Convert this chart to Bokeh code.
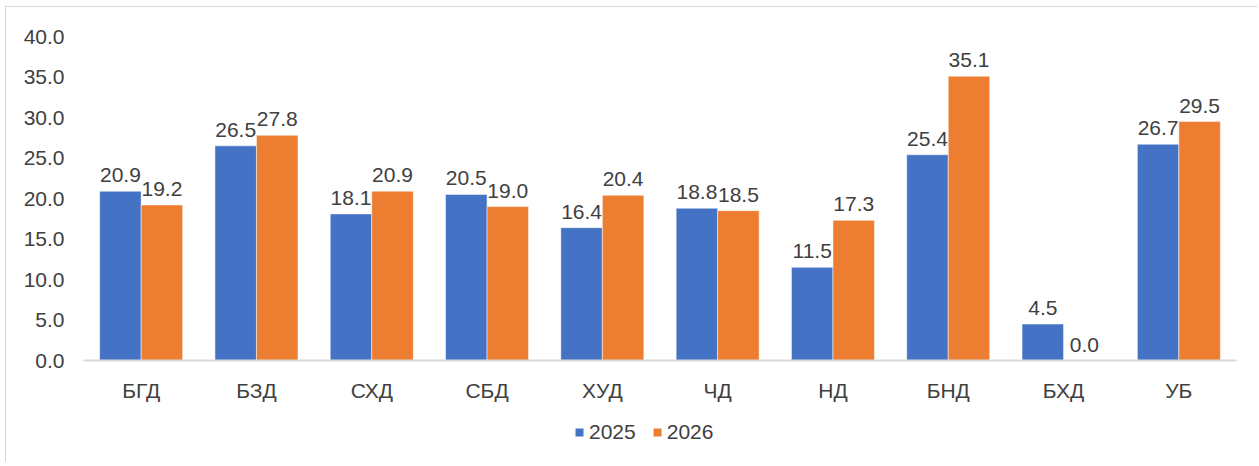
from bokeh.plotting import figure
from bokeh.layouts import column
from bokeh.models import (FactorRange, ColumnDataSource, Legend, LegendItem,
                          NumeralTickFormatter, FixedTicker, Range1d)
from bokeh.transform import dodge
from bokeh.core.properties import value
from bokeh.embed import file_html
from bokeh.resources import INLINE

categories = ["БГД", "БЗД", "СХД", "СБД", "ХУД", "ЧД", "НД", "БНД", "БХД", "УБ"]
series_names = ["2025", "2026"]
values_2025 = [20.9, 26.5, 18.1, 20.5, 16.4, 18.8, 11.5, 25.4, 4.5, 26.7]
values_2026 = [19.2, 27.8, 20.9, 19.0, 20.4, 18.5, 17.3, 35.1, 0.0, 29.5]
y_ticks = [0, 5, 10, 15, 20, 25, 30, 35, 40]

FONT = "Liberation Sans"
FS = "21px"
TXT = "#404040"
BLUE = "#4472C4"
ORANGE = "#ED7D31"
BORDER = "1px solid #d9d9d9"

src = ColumnDataSource(dict(
    cat=categories,
    v1=values_2025,
    v2=values_2026,
    l1=[f"{v:.1f}" for v in values_2025],
    l2=[f"{v:.1f}" for v in values_2026],
))

p = figure(width=1252, height=400, x_range=FactorRange(*categories), y_range=(0, 40),
           output_backend="svg", toolbar_location=None,
           min_border_left=77, min_border_right=22, min_border_top=29, min_border_bottom=47)
p.margin = (6, 0, 0, 5)
p.styles = {"border-top": BORDER, "border-left": BORDER}
p.outline_line_color = None
p.xgrid.grid_line_color = None
p.ygrid.grid_line_color = None

bw = 0.36
r1 = p.vbar(x=dodge("cat", -bw / 2, range=p.x_range), top="v1", width=bw, source=src,
            fill_color=BLUE, line_color="white", line_width=0.5)
r2 = p.vbar(x=dodge("cat", bw / 2, range=p.x_range), top="v2", width=bw, source=src,
            fill_color=ORANGE, line_color="white", line_width=0.5)

for xcol, ycol, lcol, off in [("cat", "v1", "l1", -bw / 2), ("cat", "v2", "l2", bw / 2)]:
    p.text(x=dodge(xcol, off, range=p.x_range), y=ycol, text=lcol, source=src,
           text_font=value(FONT), text_font_size=FS, text_color=TXT,
           text_align="center", text_baseline="alphabetic", y_offset=-16)

ya = p.yaxis[0]
ya.ticker = FixedTicker(ticks=y_ticks)
ya.formatter = NumeralTickFormatter(format="0.0")
ya.axis_line_color = None
ya.major_tick_line_color = None
ya.minor_tick_line_color = None
ya.major_tick_out = 0
ya.major_tick_in = 0
ya.major_label_standoff = 19
ya.major_label_text_font = FONT
ya.major_label_text_font_size = FS
ya.major_label_text_color = TXT

xa = p.xaxis[0]
xa.axis_line_color = "#d9d9d9"
xa.axis_line_width = 2
xa.major_tick_line_color = None
xa.minor_tick_line_color = None
xa.major_tick_out = 0
xa.major_tick_in = 0
xa.major_label_standoff = 18
xa.major_label_text_font = FONT
xa.major_label_text_font_size = FS
xa.major_label_text_color = TXT

# legend strip below the chart (legend keys are zero-height, off-view placeholders)
lg = figure(width=1252, height=56, x_range=Range1d(0, 1), y_range=Range1d(0, 1),
            output_backend="svg", toolbar_location=None, min_border=0)
lg.margin = (0, 0, 0, 5)
lg.styles = {"border-left": BORDER}
lg.axis.visible = False
lg.grid.grid_line_color = None
lg.outline_line_color = None
k1 = lg.vbar(x=[5.0], top=[0.0], width=0.1, fill_color=BLUE, line_color=None)
k2 = lg.vbar(x=[5.0], top=[0.0], width=0.1, fill_color=ORANGE, line_color=None)
legend = Legend(items=[LegendItem(label=series_names[0], renderers=[k1]),
                       LegendItem(label=series_names[1], renderers=[k2])],
                orientation="horizontal", location=(491, 18),
                glyph_width=10, glyph_height=10, label_standoff=5, spacing=16,
                label_text_font=FONT, label_text_font_size=FS, label_text_color=TXT,
                border_line_color=None, background_fill_alpha=0, margin=0, padding=0)
lg.add_layout(legend, "center")

layout = column(p, lg, spacing=0)
open("out.html", "w").write(file_html(layout, INLINE))
